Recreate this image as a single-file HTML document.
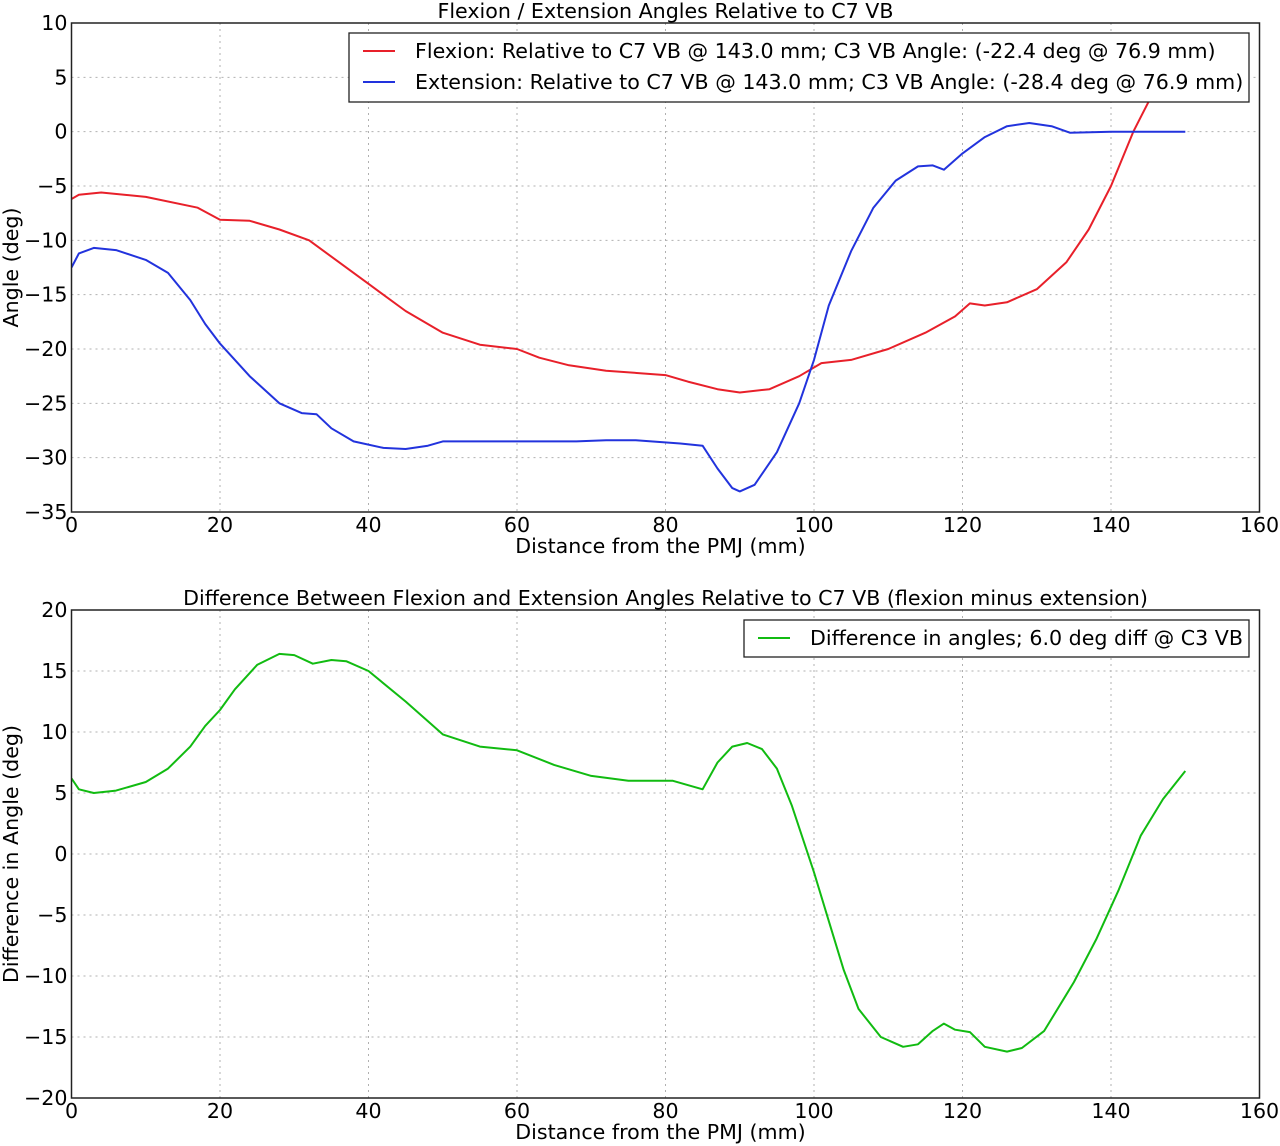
<!DOCTYPE html>
<html><head><meta charset="utf-8"><style>
html,body{margin:0;padding:0;background:#fff}
svg{display:block;font-family:"DejaVu Sans","Liberation Sans",sans-serif}
</style></head><body>
<svg id="chart" width="1280" height="1146" xmlns="http://www.w3.org/2000/svg"></svg>
<script>
const xTicks=[0,20,40,60,80,100,120,140,160];
const topYTicks=[10,5,0,-5,-10,-15,-20,-25,-30,-35];
const botYTicks=[20,15,10,5,0,-5,-10,-15,-20];
const flexX=[0,1,4,10,17,20,24,28,32,36,40,45,50,55,60,63,67,72,80,83,87,90,94,98,101,105,110,115,119,121,123,126,130,134,137,140,143,146];
const flexY=[-6.2,-5.8,-5.6,-6,-7,-8.1,-8.2,-9,-10,-12,-14,-16.5,-18.5,-19.6,-20,-20.8,-21.5,-22,-22.4,-23,-23.7,-24,-23.7,-22.5,-21.3,-21,-20,-18.5,-17,-15.8,-16,-15.7,-14.5,-12,-9,-5,0,4];
const extX=[0,1,3,6,10,13,16,18,20,24,28,31,33,35,38,42,45,48,50,60,68,72,76,82,85,87,89,90,92,95,98,100,102,105,108,111,114,116,117.5,120,123,126,129,132,134.5,140,150];
const extY=[-12.5,-11.2,-10.7,-10.9,-11.8,-13,-15.5,-17.7,-19.5,-22.5,-25,-25.9,-26,-27.3,-28.5,-29.1,-29.2,-28.9,-28.5,-28.5,-28.5,-28.4,-28.4,-28.7,-28.9,-31,-32.8,-33.1,-32.5,-29.5,-25,-21,-16,-11,-7,-4.5,-3.2,-3.1,-3.5,-2,-0.5,0.5,0.8,0.5,-0.1,0,0];
const diffX=[0,1,3,6,10,13,16,18,20,22,25,28,30,32.5,35,37,40,45,50,55,60,65,70,75,80,81,85,87,89,91,93,95,97,100,102,104,106,109,112,114,116,117.5,119,121,123,126,128,131,134,135,138,141,144,147,150];
const diffY=[6.2,5.3,5.0,5.2,5.9,7,8.8,10.5,11.8,13.5,15.5,16.4,16.3,15.6,15.9,15.8,15,12.5,9.8,8.8,8.5,7.3,6.4,6,6,6,5.3,7.5,8.8,9.1,8.6,7,4,-1.5,-5.5,-9.5,-12.7,-15,-15.8,-15.6,-14.5,-13.9,-14.4,-14.6,-15.8,-16.2,-15.9,-14.5,-11.5,-10.5,-7,-3,1.5,4.5,6.8];

const NS='http://www.w3.org/2000/svg';
const svg=document.getElementById('chart');
const FS=20.6;
function mk(tag,attrs,parent){const e=document.createElementNS(NS,tag);for(const k in attrs)e.setAttribute(k,attrs[k]);(parent||svg).appendChild(e);return e;}
function txt(s,attrs,parent){const e=mk('text',attrs,parent);e.textContent=s;return e;}

function panel(cfg){
  const {L,R,T,B,ymin,ymax,yTicks,name}=cfg;
  const sx=v=>L+(v-0)/(160)*(R-L);
  const sy=v=>T+(ymax-v)/(ymax-ymin)*(B-T);
  const g=mk('g',{});
  
  
  const cid=name+'-clip';
  const defs=mk('defs',{},g);const cp=mk('clipPath',{id:cid},defs);mk('rect',{x:L,y:T,width:R-L,height:B-T},cp);
  xTicks.forEach(t=>{const l=mk('line',{x1:sx(t),x2:sx(t),y1:T,y2:B,stroke:'#b0b0b0','stroke-dasharray':'2,4','stroke-width':1},g);
    
    const tl=txt(String(t),{x:sx(t),y:B+20,'font-size':FS,'text-anchor':'middle',fill:'#000'},g);
    });
  yTicks.forEach(t=>{const l=mk('line',{x1:L,x2:R,y1:sy(t),y2:sy(t),stroke:'#b0b0b0','stroke-dasharray':'2,4','stroke-width':1},g);
    
    const lab=t<0?'\u2212'+Math.abs(t):String(t);
    const tl=txt(lab,{x:L-4,y:sy(t)+7,'font-size':FS,'text-anchor':'end',fill:'#000'},g);
    });
  cfg.series.forEach(s=>{
    const pts=s.x.map((v,i)=>sx(v).toFixed(1)+','+sy(s.y[i]).toFixed(1)).join(' ');
    const p=mk('polyline',{points:pts,fill:'none',stroke:s.color,'stroke-width':2,'stroke-linejoin':'round','clip-path':'url(#'+cid+')'},g);
    
  });
  const fr=mk('rect',{x:L,y:T,width:R-L,height:B-T,fill:'none',stroke:'#222','stroke-width':1.5},g);
  
  const ti=txt(cfg.title,{x:(L+R)/2,y:T-5,'font-size':FS,'text-anchor':'middle'},g);
  
  const xt=txt('Distance from the PMJ (mm)',{x:(L+R)/2-5,y:B+41,'font-size':FS,'text-anchor':'middle'},g);
  
  const yc=(T+B)/2;
  const yt=txt(cfg.ylabel,{x:18,y:yc,'font-size':FS,'text-anchor':'middle',transform:'rotate(-90 18 '+yc+')'},g);
  
  const lg=mk('g',{},g);
  
  const lb=cfg.legend;
  mk('rect',{x:lb.x,y:lb.y,width:lb.w,height:lb.h,fill:'#fff',stroke:'#222','stroke-width':1.3},lg);
  cfg.series.forEach((s,i)=>{
    const yy=lb.y+18+i*31;
    mk('line',{x1:lb.x+14,x2:lb.x+46,y1:yy,y2:yy,stroke:s.color,'stroke-width':2},lg);
    const e=txt(s.label,{x:lb.x+66,y:yy+7,'font-size':FS},lg);
    
  });
}
panel({name:'top',L:71.5,R:1259.5,T:23,B:512,ymin:-35,ymax:10,yTicks:topYTicks,
  title:'Flexion / Extension Angles Relative to C7 VB',ylabel:'Angle (deg)',
  legend:{x:349,y:33,w:900,h:69},
  series:[{name:'flexion-line',x:flexX,y:flexY,color:'#e8202a',label:'Flexion: Relative to C7 VB @ 143.0 mm; C3 VB Angle: (-22.4 deg @ 76.9 mm)'},
          {name:'extension-line',x:extX,y:extY,color:'#2233dd',label:'Extension: Relative to C7 VB @ 143.0 mm; C3 VB Angle: (-28.4 deg @ 76.9 mm)'}]});
panel({name:'bottom',L:71.5,R:1259.5,T:610,B:1098,ymin:-20,ymax:20,yTicks:botYTicks,
  title:'Difference Between Flexion and Extension Angles Relative to C7 VB (flexion minus extension)',ylabel:'Difference in Angle (deg)',
  legend:{x:744,y:620,w:505,h:37},
  series:[{name:'difference-line',x:diffX,y:diffY,color:'#11bb11',label:'Difference in angles; 6.0 deg diff @ C3 VB'}]});
</script>
</body></html>
